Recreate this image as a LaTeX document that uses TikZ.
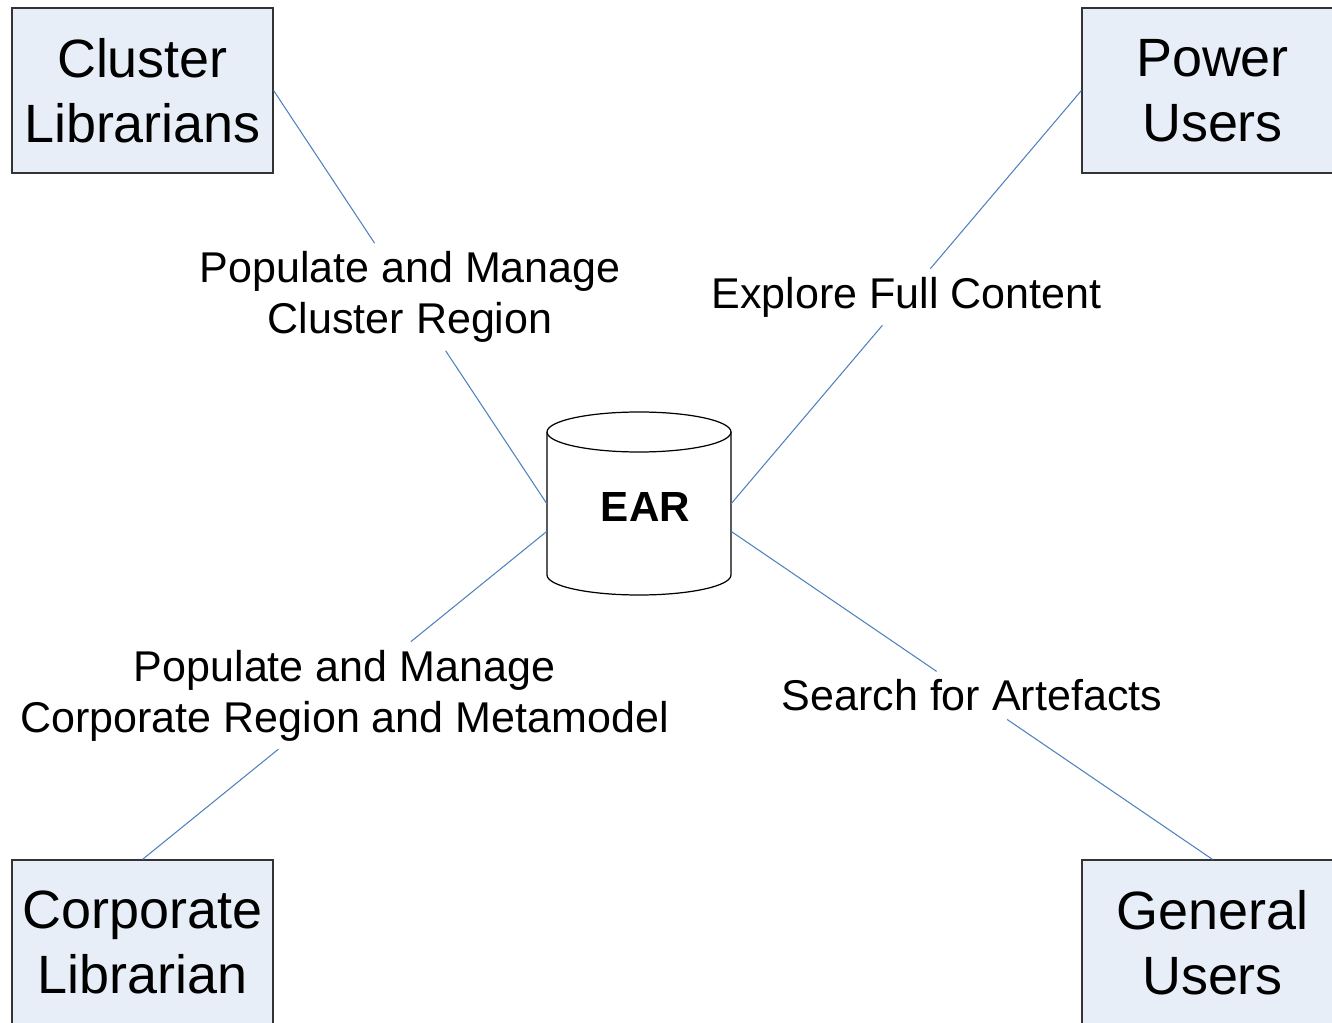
\documentclass[tikz,border=0pt]{standalone}
\usepackage{fontspec}
\setmainfont{Liberation Sans}
\usetikzlibrary{calc}
\definecolor{boxfill}{HTML}{E8EEF8}
\definecolor{linkblue}{HTML}{4F81BD}

\begin{document}
\begin{tikzpicture}[x=0.02cm,y=-0.02cm,
    actor/.style={draw=black!80,fill=boxfill,line width=0.7pt,minimum width=5.22cm,minimum height=3.3cm,align=center,font=\fontsize{30.7}{37}\selectfont},
    role/.style={inner sep=4.5pt,align=center,font=\fontsize{24.5}{29}\selectfont},
    link/.style={draw=linkblue,line width=0.6pt}]
  \useasboundingbox (0,0) rectangle (1332,1023);
  \clip (0,0) rectangle (1332,1023);
  % the four user groups
  \node[actor](cl)at(142.5,90.5){Cluster\\Librarians};
  \node[actor](pu)at(1212.5,90.5){Power\\Users};
  \node[actor](co)at(142.5,942.5){Corporate\\Librarian};
  \node[actor](gu)at(1212.5,942.5){General\\Users};
  % the repository
  \node[minimum width=3.68cm,minimum height=3.66cm,inner sep=0pt](ear)at(639,503.5){};
  \draw[fill=white,line width=0.7pt] (547,432) -- (547,575) arc[start angle=180,end angle=360,x radius=1.84cm,y radius=0.4cm] -- (731,432);
  \draw[fill=white,line width=0.7pt] (639,432) ellipse[x radius=1.84cm,y radius=0.4cm];
  \node[font=\bfseries\fontsize{24}{29}\selectfont](earlbl)at(645.5,507){EAR};
  \coordinate (ul) at (ear.west);
  \coordinate (ll) at ($(ear.west)+(0,28)$);
  \coordinate (ur) at (ear.east);
  \coordinate (lr) at ($(ear.east)+(0,28)$);
  % labels sit on the middle of each link
  \node[role](r1)at($(cl.east)!0.5!(ul)$){Populate and Manage\\Cluster Region};
  \node[role](r2)at($(pu.west)!0.5!(ur)$){Explore Full Content};
  \node[role](r3)at($(co.north)!0.5!(ll)$){Populate and Manage\\Corporate Region and Metamodel};
  \node[role](r4)at($(gu.north)!0.5!(lr)$){Search for Artefacts};
  \draw[link](cl.east)--(r1)--(ul);
  \draw[link](pu.west)--(r2)--(ur);
  \draw[link](co.north)--(r3)--(ll);
  \draw[link](gu.north)--(r4)--(lr);
\end{tikzpicture}
\end{document}
